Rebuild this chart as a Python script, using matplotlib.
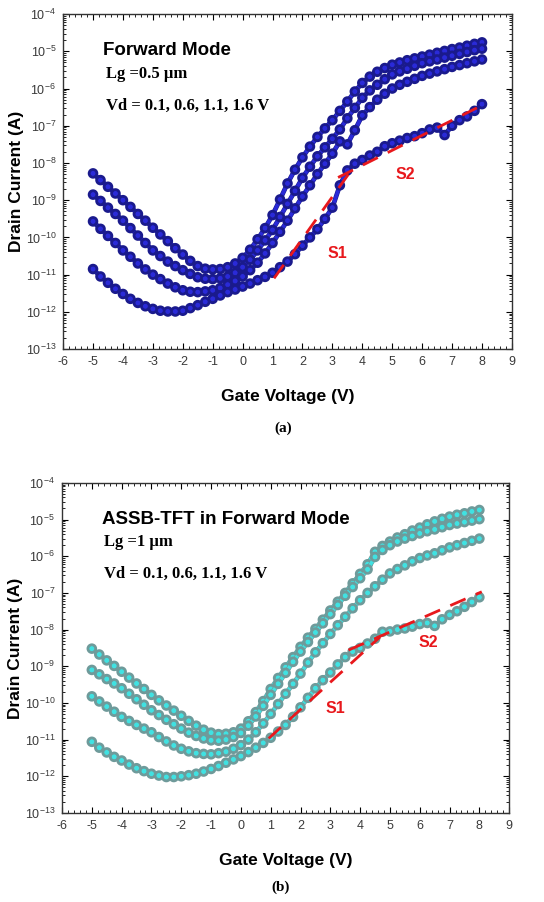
import numpy as np
import matplotlib
matplotlib.use("Agg")
import matplotlib.pyplot as plt
import matplotlib.patheffects as pe
from matplotlib.ticker import LogLocator, MultipleLocator, AutoMinorLocator, NullFormatter

plt.rcParams['font.family'] = ['Liberation Sans', 'DejaVu Sans']
plt.rcParams['mathtext.default'] = 'regular'
plt.rcParams['axes.unicode_minus'] = False

# gate voltage sweep (V), read every 0.25 V
vg = np.arange(-5, 8.001, 0.25)

# log10 of drain current (A), panel (a): Lg = 0.5 um
a_vd16 = [-8.28, -8.46, -8.64, -8.82, -9.00, -9.18, -9.37, -9.55, -9.74, -9.92,
          -10.10, -10.29, -10.46, -10.63, -10.77, -10.84, -10.86, -10.85, -10.80, -10.70,
          -10.55, -10.33, -10.05, -9.75, -9.40, -8.98, -8.55, -8.18, -7.85, -7.56,
          -7.30, -7.07, -6.85, -6.60, -6.35, -6.08, -5.85, -5.68, -5.55, -5.45,
          -5.36, -5.30, -5.24, -5.19, -5.14, -5.09, -5.04, -4.99, -4.94, -4.90,
          -4.85, -4.80, -4.76]
a_vd11 = [-8.85, -9.02, -9.20, -9.37, -9.55, -9.75, -9.95, -10.15, -10.35, -10.50,
          -10.65, -10.77, -10.88, -10.98, -11.07, -11.11, -11.12, -11.10, -11.05, -10.95,
          -10.80, -10.60, -10.35, -10.08, -9.80, -9.45, -9.10, -8.75, -8.40, -8.10,
          -7.82, -7.58, -7.35, -7.10, -6.80, -6.52, -6.25, -6.05, -5.90, -5.75,
          -5.62, -5.54, -5.47, -5.39, -5.32, -5.27, -5.22, -5.17, -5.12, -5.07,
          -5.02, -4.97, -4.93]
a_vd06 = [-9.57, -9.77, -9.96, -10.15, -10.35, -10.52, -10.70, -10.86, -11.00, -11.12,
          -11.24, -11.34, -11.42, -11.46, -11.47, -11.45, -11.42, -11.36, -11.27, -11.17,
          -11.05, -10.88, -10.68, -10.43, -10.15, -9.85, -9.55, -9.22, -8.90, -8.60,
          -8.30, -8.02, -7.75, -7.42, -7.50, -7.12, -6.72, -6.50, -6.30, -6.14,
          -6.00, -5.90, -5.82, -5.74, -5.66, -5.60, -5.54, -5.48, -5.42, -5.37,
          -5.32, -5.27, -5.22]
a_vd01 = [-10.85, -11.05, -11.22, -11.38, -11.52, -11.65, -11.76, -11.85, -11.92, -11.97,
          -11.99, -11.99, -11.97, -11.90, -11.82, -11.73, -11.65, -11.56, -11.47, -11.40,
          -11.32, -11.24, -11.15, -11.06, -10.95, -10.80, -10.65, -10.45, -10.22, -10.00,
          -9.78, -9.50, -9.20, -8.60, -8.20, -8.02, -7.92, -7.80, -7.70, -7.55,
          -7.47, -7.40, -7.33, -7.28, -7.20, -7.10, -7.05, -7.25, -7.00, -6.85,
          -6.75, -6.60, -6.42]

# panel (b): ASSB-TFT, Lg = 1 um
b_vd16 = [-8.52, -8.68, -8.84, -8.99, -9.15, -9.31, -9.47, -9.62, -9.78, -9.93,
          -10.07, -10.21, -10.35, -10.49, -10.62, -10.73, -10.81, -10.85, -10.84, -10.80,
          -10.70, -10.50, -10.25, -9.95, -9.62, -9.32, -9.03, -8.75, -8.47, -8.22,
          -7.98, -7.73, -7.48, -7.24, -7.00, -6.74, -6.48, -6.22, -5.88, -5.72,
          -5.60, -5.49, -5.40, -5.30, -5.22, -5.13, -5.05, -4.98, -4.92, -4.87,
          -4.83, -4.78, -4.74]
b_vd11 = [-9.10, -9.22, -9.35, -9.47, -9.60, -9.75, -9.90, -10.05, -10.20, -10.33,
          -10.46, -10.58, -10.70, -10.81, -10.90, -10.97, -11.02, -11.03, -11.00, -10.93,
          -10.82, -10.62, -10.37, -10.08, -9.78, -9.48, -9.18, -8.88, -8.60, -8.34,
          -8.08, -7.83, -7.58, -7.33, -7.08, -6.84, -6.60, -6.36, -6.02, -5.83,
          -5.70, -5.60, -5.52, -5.45, -5.38, -5.32, -5.27, -5.21, -5.15, -5.11,
          -5.07, -5.03, -4.99]
b_vd06 = [-9.82, -9.96, -10.10, -10.24, -10.38, -10.49, -10.60, -10.70, -10.80, -10.93,
          -11.05, -11.16, -11.25, -11.32, -11.37, -11.39, -11.40, -11.37, -11.33, -11.25,
          -11.15, -11.00, -10.80, -10.56, -10.30, -10.03, -9.75, -9.48, -9.20, -8.90,
          -8.62, -8.37, -8.12, -7.88, -7.65, -7.42, -7.20, -7.00, -6.82, -6.64,
          -6.47, -6.35, -6.25, -6.14, -6.05, -5.98, -5.92, -5.84, -5.76, -5.70,
          -5.64, -5.58, -5.52]
b_vd01 = [-11.06, -11.22, -11.35, -11.47, -11.57, -11.68, -11.78, -11.86, -11.93, -11.98,
          -12.02, -12.02, -12.00, -11.97, -11.93, -11.87, -11.80, -11.72, -11.63, -11.54,
          -11.45, -11.34, -11.22, -11.09, -10.95, -10.78, -10.60, -10.38, -10.12, -9.86,
          -9.60, -9.38, -9.17, -8.95, -8.75, -8.60, -8.50, -8.38, -8.25, -8.06,
          -8.05, -8.00, -7.97, -7.92, -7.85, -7.82, -7.90, -7.72, -7.60, -7.50,
          -7.38, -7.25, -7.12]

# red fit lines: (Vg start, Vg end), (log I start, log I end)
a_s1 = ([1.05, 3.7], [-11.1, -8.12])
a_s2 = ([3.19, 7.83], [-8.39, -6.52])
b_s1 = ([0.93, 4.67], [-10.97, -8.2])
b_s2 = ([3.61, 8.08], [-8.56, -6.97])
a_lbl = {"S1": (3.17, -10.42), "S2": (5.45, -8.3)}
b_lbl = {"S1": (3.16, -10.15), "S2": (6.29, -8.34)}

fig = plt.figure(figsize=(5.44, 9.02), dpi=100)
ax_a = fig.add_axes([0.116, 0.613, 0.825, 0.3714])
ax_b = fig.add_axes([0.114, 0.0987, 0.822, 0.366])


def draw_panel(ax, curves, fill, edge, s1, s2, lbl, title, lg):
    for c in curves:
        line, = ax.plot(vg, 10.0 ** np.array(c), '-o', color=fill, lw=2.6, ms=4.2,
                        mfc=fill, mec=edge, mew=0.6, zorder=3)
        line.set_path_effects([pe.Stroke(linewidth=3.4, foreground=edge), pe.Normal()])
    for s in (s1, s2):
        ax.plot(s[0], 10.0 ** np.array(s[1]), color='#e8181c', lw=2.0,
                dashes=(6, 4), zorder=4)
    for k, (x, y) in lbl.items():
        ax.text(x, 10.0 ** y, k, color='#e8181c', fontsize=11.5, fontweight='bold',
                ha='center', va='center', zorder=5)
    ax.set_yscale('log')
    ax.set_xlim(-6, 9)
    ax.set_ylim(1e-13, 1e-4)
    ax.xaxis.set_major_locator(MultipleLocator(1))
    ax.xaxis.set_minor_locator(AutoMinorLocator(5))
    ax.yaxis.set_major_locator(LogLocator(base=10, numticks=20))
    ax.yaxis.set_minor_locator(LogLocator(base=10, subs=np.arange(2, 10), numticks=20))
    ax.yaxis.set_minor_formatter(NullFormatter())
    ax.tick_params(which='both', direction='in', top=True, right=True,
                   labelsize=9, labelcolor='#3a3a3a', pad=5)
    ax.tick_params(which='major', length=4, width=0.8)
    ax.tick_params(which='minor', length=2, width=0.6)
    for sp in ax.spines.values():
        sp.set_linewidth(1.0)
        sp.set_color('#333333')
    ax.set_ylabel('Drain Current (A)', fontsize=12.5, fontweight='bold', labelpad=1)
    ax.set_xlabel('Gate Voltage (V)', fontsize=12.5, fontweight='bold', labelpad=15)
    ax.text(0.09, 0.89, title, transform=ax.transAxes, fontsize=13.5,
            fontweight='bold', va='center')
    ax.text(0.095, 0.82, lg, transform=ax.transAxes, fontsize=12,
            fontweight='bold', family=['Liberation Serif', 'DejaVu Serif'], va='center')
    ax.text(0.095, 0.725, 'Vd = 0.1, 0.6, 1.1, 1.6 V', transform=ax.transAxes,
            fontsize=12, fontweight='bold', family=['Liberation Serif', 'DejaVu Serif'],
            va='center')


draw_panel(ax_a, [a_vd16, a_vd11, a_vd06, a_vd01], '#2a2ad8', '#1a1a8c',
           a_s1, a_s2, a_lbl, 'Forward Mode', 'Lg =0.5 μm')
draw_panel(ax_b, [b_vd16, b_vd11, b_vd06, b_vd01], '#40e2e2', '#6f9a9a',
           b_s1, b_s2, b_lbl, 'ASSB-TFT in Forward Mode', 'Lg =1 μm')

fig.text(0.52, 1 - 428 / 902, '(a)', ha='center', va='center', fontsize=11,
         fontweight='bold', family=['Liberation Serif', 'DejaVu Serif'])
fig.text(0.515, 1 - 887 / 902, '(b)', ha='center', va='center', fontsize=11,
         fontweight='bold', family=['Liberation Serif', 'DejaVu Serif'])

fig.savefig('out.png', dpi=100)
